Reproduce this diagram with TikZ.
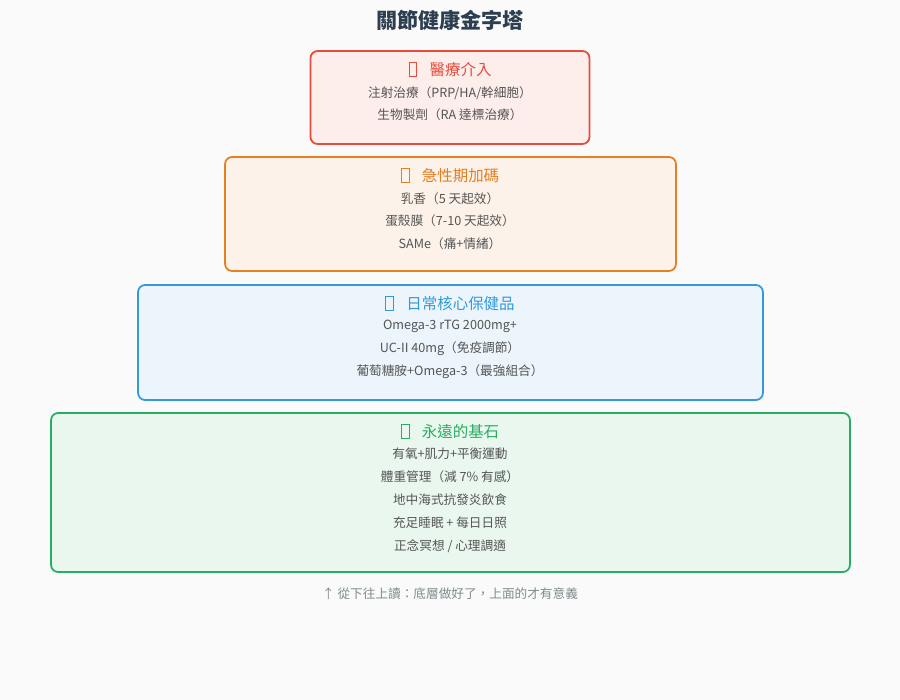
\documentclass[tikz,border=0pt]{standalone}
\usepackage{fontspec}
\usepackage{xcolor}
\setmainfont{Noto Sans CJK TC}
\usetikzlibrary{positioning}
\definecolor{tierred}{HTML}{E74C3C}
\definecolor{tierorange}{HTML}{E67E22}
\definecolor{tierblue}{HTML}{3498DB}
\definecolor{tiergreen}{HTML}{27AE60}
\definecolor{bodytext}{HTML}{555555}
\definecolor{headtext}{HTML}{2C3E50}
\definecolor{notetext}{HTML}{7F8C8D}
\definecolor{pagebg}{HTML}{FAFAFA}
\newcommand{\tofu}{{\setlength{\fboxsep}{0pt}\setlength{\fboxrule}{0.5pt}\fbox{\rule{0pt}{7pt}\hspace{4pt}}}\hspace{7pt}}

\begin{document}
\begin{tikzpicture}[x=0.02cm,y=-0.02cm]
		\tikzstyle{tier}=[draw, line width=1pt, rounded corners=4pt, inner sep=0pt]
		\tikzstyle{tier_text}=[anchor=north, align=center, font=\fontsize{7.2}{13}\selectfont, text=bodytext, inner sep=0pt]
		\tikzstyle{tier_title}=[anchor=north, font=\fontsize{8.8}{10}\selectfont, inner sep=0pt]

		\fill[pagebg] (0,0) rectangle (900,700);
		\useasboundingbox (0,0) rectangle (900,700);

		\node (title) at (450,20) [font=\fontsize{12}{14}\selectfont\bfseries, text=headtext] {關節健康金字塔};

		% top tier
		\node (medical) [tier, draw=tierred, fill=tierred!10, minimum width=5.58cm, minimum height=1.86cm] at (450,97.5) {};
		\node (medical_title) at (450,62) [tier_title, text=tierred] {\tofu 醫療介入};
		\node (medical_text) [tier_text, below=5pt of medical_title] {注射治療（PRP/HA/幹細胞）\\生物製劑（RA 達標治療）};

		% acute tier
		\node (acute) [tier, draw=tierorange, fill=tierorange!10, minimum width=9.02cm, minimum height=2.28cm] at (450.5,214) {};
		\node (acute_title) at (450,168) [tier_title, text=tierorange] {\tofu 急性期加碼};
		\node (acute_text) [tier_text, below=5pt of acute_title] {乳香（5 天起效）\\蛋殼膜（7-10 天起效）\\SAMe（痛+情緒）};

		% core tier
		\node (core) [tier, draw=tierblue, fill=tierblue!10, minimum width=12.5cm, minimum height=2.3cm] at (450.5,342.5) {};
		\node (core_title) at (450,296) [tier_title, text=tierblue] {\tofu 日常核心保健品};
		\node (core_text) [tier_text, below=5pt of core_title] {Omega-3 rTG 2000mg+\\UC-II 40mg（免疫調節）\\葡萄糖胺+Omega-3（最強組合）};

		% base tier
		\node (base) [tier, draw=tiergreen, fill=tiergreen!10, minimum width=15.98cm, minimum height=3.18cm] at (450.5,492.5) {};
		\node (base_title) at (450,424) [tier_title, text=tiergreen] {\tofu 永遠的基石};
		\node (base_text) [tier_text, below=5pt of base_title] {有氧+肌力+平衡運動\\體重管理（減 7\% 有感）\\地中海式抗發炎飲食\\充足睡眠 + 每日日照\\正念冥想 / 心理調適};

		\node (note) at (450,594) [font=\fontsize{7.2}{8}\selectfont, text=notetext] {↑ 從下往上讀：底層做好了，上面的才有意義};
\end{tikzpicture}
\end{document}
